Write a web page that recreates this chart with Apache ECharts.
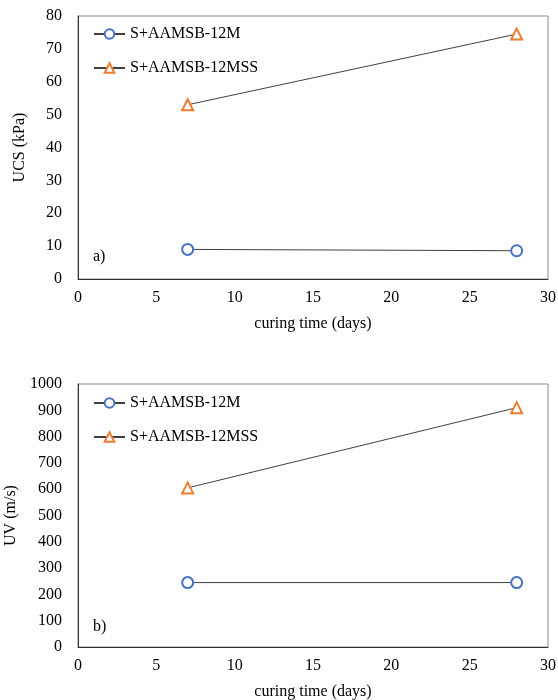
<!DOCTYPE html>
<html><head><meta charset="utf-8">
<script src="https://cdn.jsdelivr.net/npm/echarts@6/dist/echarts.min.js"></script>
<style>html,body{margin:0;padding:0;background:#fff}#c{width:558px;height:700px}</style>
</head><body><div id="c"></div>
<script>
const days = [7, 28];
const ucsM = [9.0, 8.6];
const ucsMSS = [53.0, 74.5];
const uvM = [245, 245];
const uvMSS = [605, 910];
const nameM = 'S+AAMSB-12M';
const nameMSS = 'S+AAMSB-12MSS';
const xTitle = 'curing time (days)';
const yTitleA = 'UCS (kPa)';
const yTitleB = 'UV (m/s)';

const font = 'Liberation Serif, Times New Roman, serif';
const txt = {color:'#000', fontFamily:font, fontSize:16};
const pair = (xs, ys) => xs.map((x,i)=>[x, ys[i]]);

function xAxis(gi){
  return {type:'value', gridIndex:gi, min:0, max:30, interval:5,
    name:xTitle, nameLocation:'middle', nameGap:37, nameTextStyle:txt,
    axisLabel:Object.assign({margin:11, formatter:v=>String(v)}, txt),
    axisLine:{show:true, lineStyle:{color:'#333', width:1}},
    axisTick:{show:false}, splitLine:{show:false}};
}
function yAxis(gi, max, interval, name){
  return {type:'value', gridIndex:gi, min:0, max:max, interval:interval,
    name:name, nameLocation:'middle', nameGap:50, nameTextStyle:txt,
    axisLabel:Object.assign({margin:16, formatter:v=>String(v)}, txt),
    axisLine:{show:true, lineStyle:{color:'#333', width:1}},
    axisTick:{show:false}, splitLine:{show:false}};
}
function ser(name, gi, data, sym, col){
  return {type:'line', name:name, xAxisIndex:gi, yAxisIndex:gi, data:data,
    symbol:sym, symbolSize:11, showSymbol:true,
    lineStyle:{color:'#404040', width:1},
    itemStyle:{color:col, borderColor:col, borderWidth:1.5},
    emphasis:{disabled:true}, animation:false};
}
const legendBase = {orient:'vertical', left:93, padding:0, itemWidth:31, itemHeight:12, itemGap:18,
  textStyle:txt, data:[nameM, nameMSS], selectedMode:false};
const gridBase = {left:78, right:10, height:263, show:true, borderColor:'#888', borderWidth:1,
  containLabel:false, outerBoundsMode:'none'};

const chart = echarts.init(document.getElementById('c'), null, {renderer:'canvas'});
chart.setOption({
  animation:false,
  grid:[
    Object.assign({top:16}, gridBase),
    Object.assign({top:384}, gridBase)
  ],
  xAxis:[xAxis(0), xAxis(1)],
  yAxis:[yAxis(0, 80, 10, yTitleA), yAxis(1, 1000, 100, yTitleB)],
  legend:[Object.assign({top:26}, legendBase), Object.assign({top:395}, legendBase)],
  series:[
    ser(nameM, 0, pair(days, ucsM), 'emptyCircle', '#4472C4'),
    ser(nameMSS, 0, pair(days, ucsMSS), 'emptyTriangle', '#ED7D31'),
    ser(nameM, 1, pair(days, uvM), 'emptyCircle', '#4472C4'),
    ser(nameMSS, 1, pair(days, uvMSS), 'emptyTriangle', '#ED7D31')
  ],
  graphic:[
    {type:'text', left:93, top:249, style:{text:'a)', fill:'#000', font:'16px '+font}},
    {type:'text', left:93, top:619, style:{text:'b)', fill:'#000', font:'16px '+font}}
  ]
});
</script></body></html>
